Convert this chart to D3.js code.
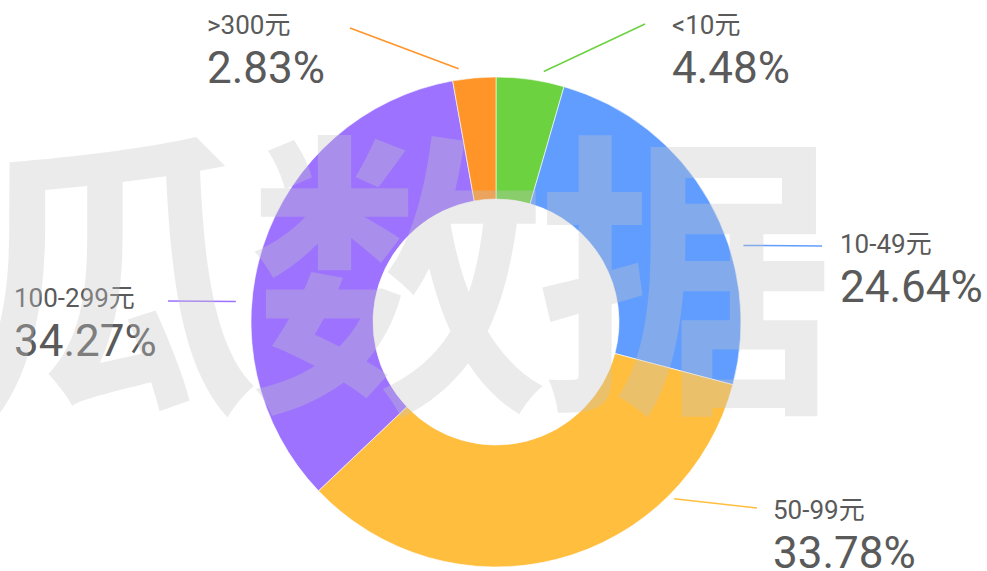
<!DOCTYPE html>
<html lang="zh">
<head>
  <meta charset="UTF-8">
  <title>价格区间分布</title>
  <style type="text/css">
    body{
      margin: 0;
      background: #fff;
    }
    .name{
      font-family: Roboto, "Noto Sans CJK SC", sans-serif;
      font-size: 26px;
      fill: #5a5a5a;
    }
    .value{
      font-family: Roboto, "Noto Sans CJK SC", sans-serif;
      font-size: 44px;
      fill: #5a5a5a;
    }
    .watermark{
      font-family: "Noto Sans CJK SC", sans-serif;
      font-weight: 700;
      font-size: 300px;
      letter-spacing: -12px;
      fill: #c4c4c4;
      fill-opacity: 0.34;
    }
  </style>
  <script type="text/javascript" src="https://d3js.org/d3.v7.min.js"></script>
</head>
<body>
<script type="text/javascript">
  // data
  var categories = ['<10元', '10-49元', '50-99元', '100-299元', '>300元'];
  var shares = [4.48, 24.64, 33.78, 34.27, 2.83];
  var colors = ['#6cd240', '#619dff', '#ffbe3e', '#9c72ff', '#ff9428'];

  var width = 987, height = 571;
  var cx = 496, cy = 322;
  var outerR = 245, innerR = 123;

  // where each label sits: leader start angle (deg), line end, text anchor
  var labelLayout = {
    '<10元':     {a: 10.8,  r: 255, x2: 645, y2: 24,  tx: 672, ty: 34},
    '10-49元':   {a: 72.8,  r: 259, x2: 822, y2: 246, tx: 840, ty: 253},
    '50-99元':   {a: 134.8, r: 251, x2: 757, y2: 508, tx: 773, ty: 519},
    '100-299元': {a: 274.5, r: 261, x2: 168, y2: 301, tx: 14,  ty: 307},
    '>300元':    {a: 351.6, r: 256, x2: 350, y2: 28,  tx: 207, ty: 34}
  };

  var data = categories.map(function(c, i){
    return {name: c, value: shares[i], color: colors[i]};
  });

  var svg = d3.select('body')
    .append('svg')
    .attr('width', width)
    .attr('height', height);

  var pie = d3.pie()
    .sort(null)
    .value(function(d){ return d.value; });

  var arc = d3.arc()
    .innerRadius(innerR)
    .outerRadius(outerR);

  var g = svg.append('g')
    .attr('transform', 'translate(' + cx + ',' + cy + ')');

  g.selectAll('.slice')
    .data(pie(data))
    .enter().append('path')
    .attr('class', 'slice')
    .attr('d', arc)
    .style('fill', function(d){ return d.data.color; })
    .style('stroke', '#fff')
    .style('stroke-width', 0.6);

  // leader lines + labels
  data.forEach(function(d){
    var L = labelLayout[d.name];
    var rad = L.a * Math.PI / 180;
    var x1 = cx + L.r * Math.sin(rad);
    var y1 = cy - L.r * Math.cos(rad);
    svg.append('line')
      .attr('x1', x1).attr('y1', y1)
      .attr('x2', L.x2).attr('y2', L.y2)
      .style('stroke', d.color)
      .style('stroke-width', 1.5);

    svg.append('text')
      .attr('class', 'name')
      .attr('x', L.tx)
      .attr('y', L.ty)
      .text(d.name);

    svg.append('text')
      .attr('class', 'value')
      .attr('x', L.tx)
      .attr('y', L.ty + 49)
      .text(d.value.toFixed(2) + '%');
  });

  // watermark over everything
  svg.append('text')
    .attr('class', 'watermark')
    .attr('x', -40)
    .attr('y', 390)
    .text('瓜数据');
</script>
</body>
</html>
